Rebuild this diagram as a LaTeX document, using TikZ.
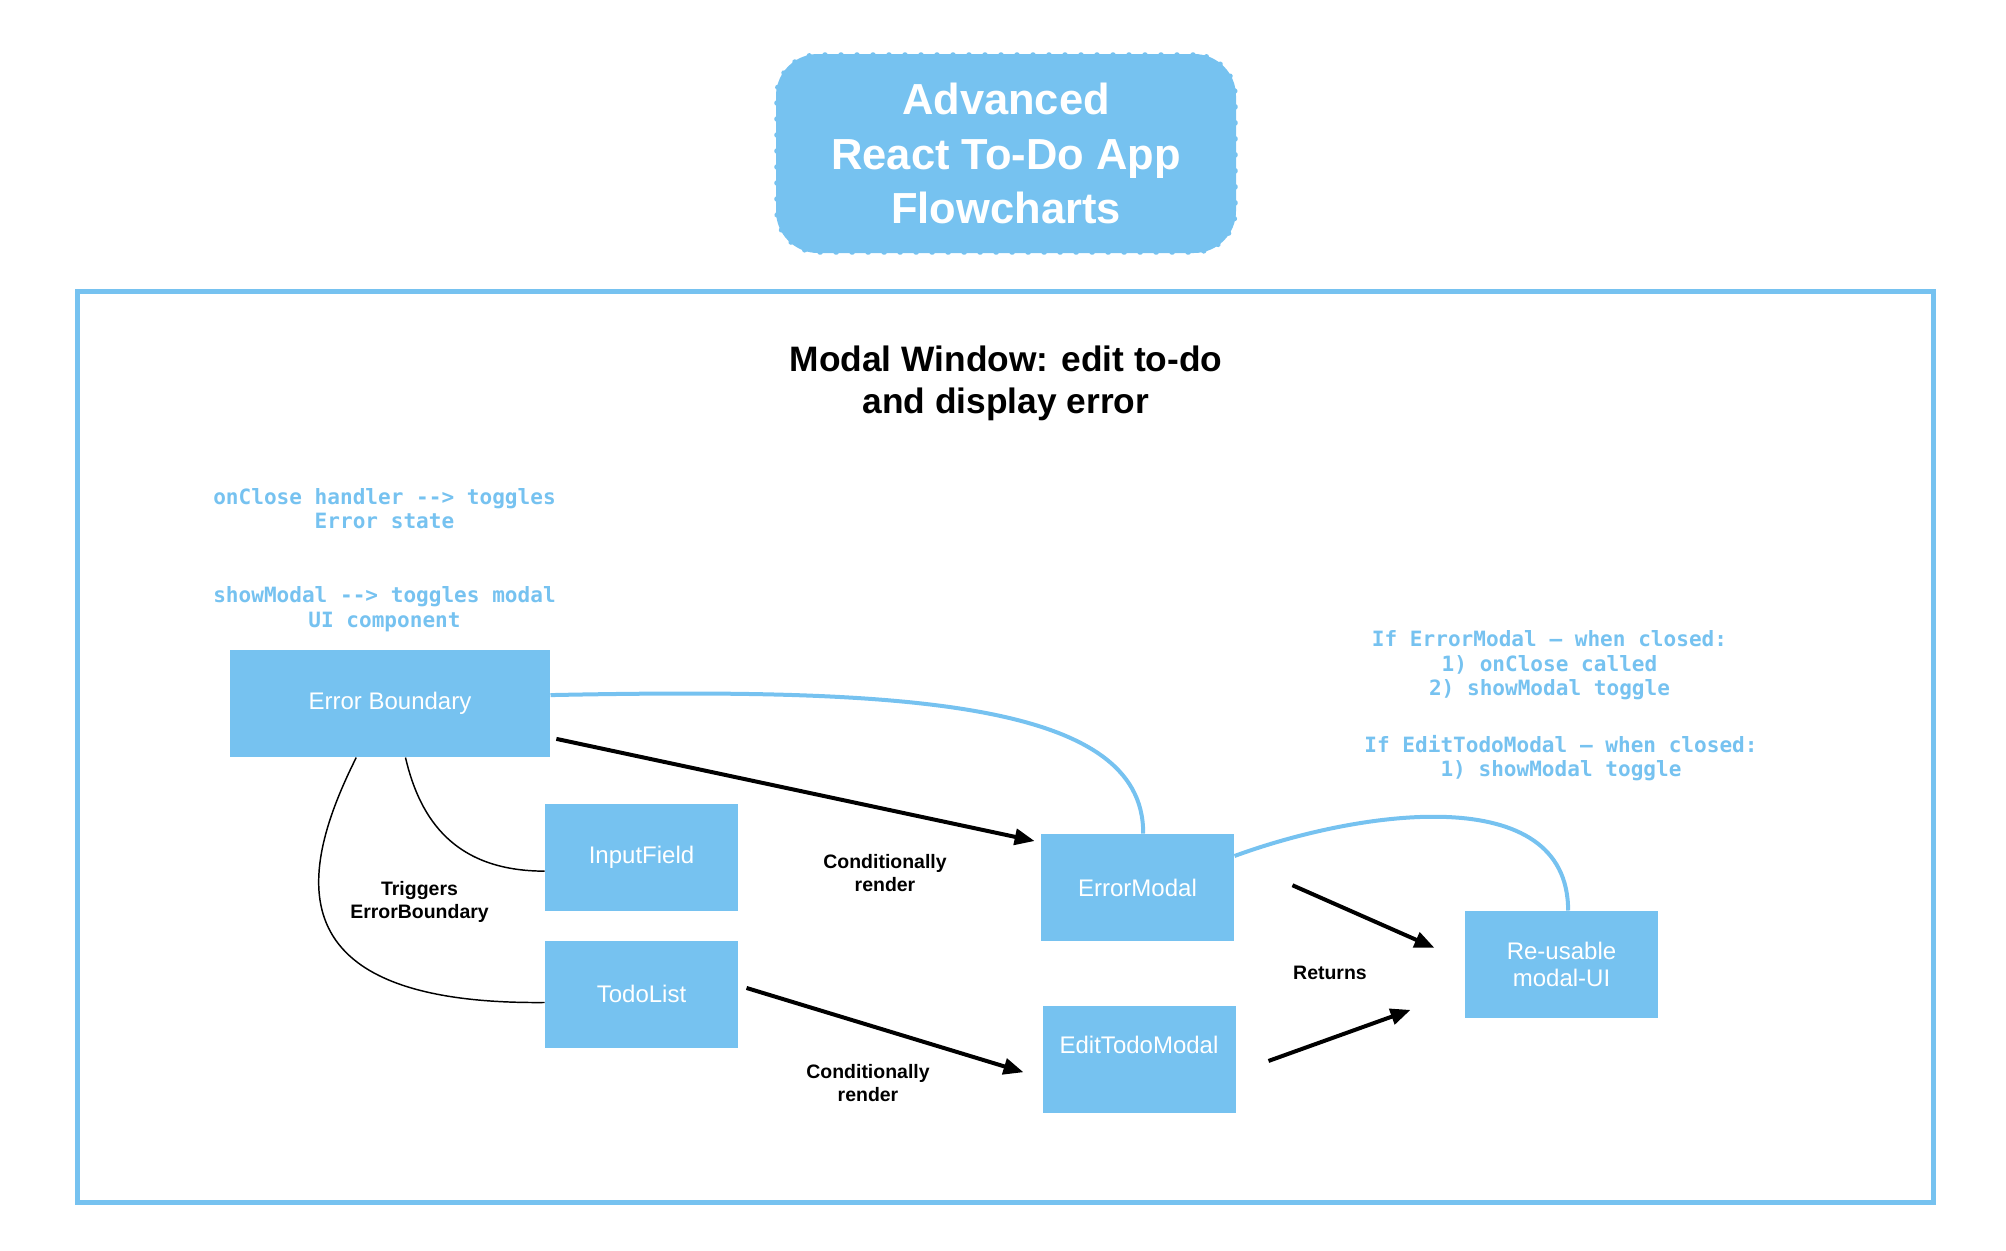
\documentclass[tikz,border=0pt]{standalone}
\usepackage{fontspec}
\setmainfont{Liberation Sans}
\newfontfamily\codefont{DejaVu Sans Mono}
\usetikzlibrary{arrows.meta}
\definecolor{skyblue}{RGB}{118,194,240}

\tikzset{every picture/.style={line width=0.75pt}}
\tikzset{
  titlebox/.style={fill=skyblue, draw=skyblue, line width=2.5pt, dash pattern={on 1.5pt off 10.5pt}, line cap=round, rounded corners=31.5pt, minimum width=345pt, minimum height=149.25pt, inner sep=0pt, text=white, align=center, font=\bfseries\fontsize{32.6pt}{41pt}\selectfont},
  heading/.style={align=center, inner sep=0pt, font=\bfseries\fontsize{26.5pt}{31.5pt}\selectfont},
  compbox/.style={fill=skyblue, text=white, minimum width=144.75pt, minimum height=80.25pt, inner sep=0pt, align=center, font=\fontsize{18pt}{20.25pt}\selectfont},
  notetext/.style={text=skyblue, align=center, inner sep=0pt, font=\codefont\bfseries\fontsize{15.8pt}{18.4pt}\selectfont},
  edgelabel/.style={align=center, inner sep=0pt, font=\bfseries\fontsize{14.6pt}{17.8pt}\selectfont},
  flow/.style={line width=3pt, -{Triangle[length=15pt,width=12pt]}},
  link/.style={draw=skyblue, line width=3pt},
  thinlink/.style={line width=1.1pt}
}

\begin{document}
\begin{tikzpicture}[x=0.75pt,y=0.75pt,yscale=-1,xscale=1]
\useasboundingbox (0,0) rectangle (2006,1250);

%Shape: Rectangle (frame)
\draw [draw=skyblue, line width=3.75pt] (77.5,291.5) rectangle (1933.5,1202.5);

%Shape: Rounded Rect (title)
\node [titlebox] (title) at (1006,153.5) {Advanced\\React To-Do App\\Flowcharts};

% Text Node
\node [heading] (heading) at (1006,383) {Modal Window: edit to-do\\and display error};

%Shape: Rectangle
\node [compbox, minimum width=240pt] (EB) at (390,703.5) {Error Boundary};
\node [compbox] (IF) at (641.5,857.5) {InputField};
\node [compbox] (TL) at (641.5,994) {TodoList};
\node [compbox] (EM) at (1137.5,887.5) {ErrorModal};
\node [compbox, text depth=22pt] (ETM) at (1139,1059) {EditTodoModal};
\node [compbox] (RU) at (1561.5,964.5) {Re-usable\\modal-UI};

% Text Node
\node [notetext] (closenote) at (384.5,508.5) {onClose handler -{}-> toggles\\Error state};
% Text Node
\node [notetext] (modalnote) at (384.5,609) {showModal -{}-> toggles modal\\UI component};
% Text Node
\node [notetext] (errornote) at (1549.5,665.5) {If ErrorModal – when closed:\\1) onClose called\\2) showModal toggle};
% Text Node
\node [notetext] (editnote) at (1561,758) {If EditTodoModal – when closed:\\1) showModal toggle};

% Text Node
\node [edgelabel] (triglabel) at (419.5,902) {Triggers\\ErrorBoundary};
% Text Node
\node [edgelabel] (condlabel) at (885,873) {Conditionally\\render};
% Text Node
\node [edgelabel] (condlabelb) at (868,1083) {Conditionally\\render};
% Text Node
\node [edgelabel] (retlabel) at (1330,973) {Returns};

%Curve Lines
\draw [link] (EB.3) .. controls (900,688) and (1144,700) .. (EM.84);
\draw [link] (EM.18) .. controls (1360,810) and (1568,780) .. (RU.83);
\draw [thinlink] (EB.-74) .. controls (420,820) and (455,871) .. (IF.188);
\draw [thinlink] (EB.-122) .. controls (300,870) and (270,1005) .. (TL.185);

%Straight Lines
\draw [flow, shorten <=4.5pt, shorten >=4.5pt] (EB.-12) -- (EM.155);
\draw [flow, shorten <=6.3pt, shorten >=14.5pt] (TL.5) -- (ETM.191);
\draw [flow, shorten <=47.5pt, shorten >=24.6pt] (EM.16) -- (RU.178);
\draw [flow, shorten <=25.9pt, shorten >=43pt] (ETM.-8) -- (RU.195);

\end{tikzpicture}
\end{document}
